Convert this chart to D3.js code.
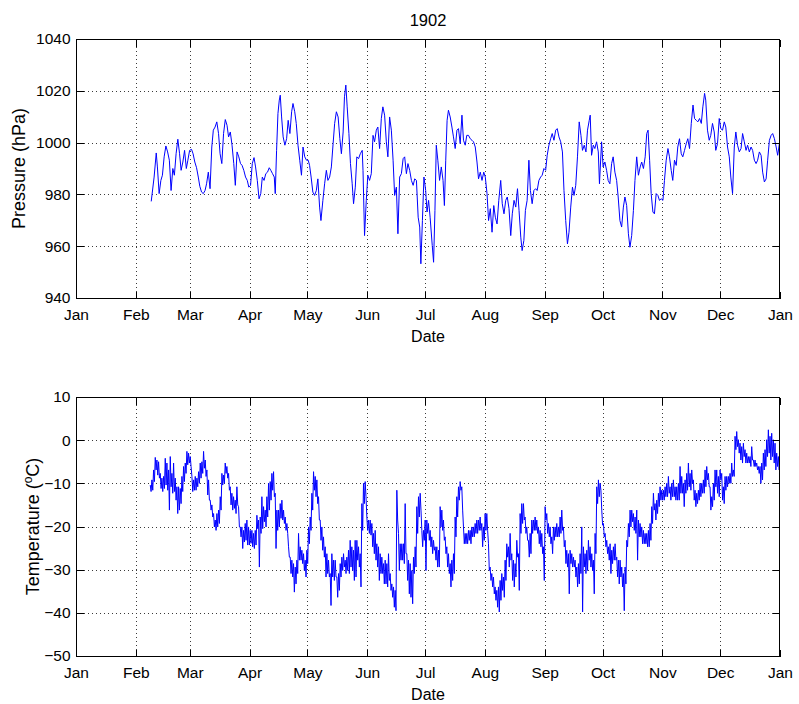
<!DOCTYPE html>
<html><head><meta charset="utf-8">
<script src="https://cdn.jsdelivr.net/npm/d3@7/dist/d3.min.js"></script>
<style>
body{margin:0;background:#fff}
svg text{font-family:"Liberation Sans",Arial,Helvetica,sans-serif;fill:#000}
</style>
</head><body>
<svg id="chart" width="799" height="704"></svg>
<script>
// ---------------- data ----------------
const chartTitle = "1902";
const xLabel = "Date";
const pressureLabel = "Pressure (hPa)";
const pressureTicks = [940, 960, 980, 1000, 1020, 1040];
const temperatureTicks = [-50, -40, -30, -20, -10, 0, 10];
const monthTickLabels = ["Jan","Feb","Mar","Apr","May","Jun","Jul","Aug","Sep","Oct","Nov","Dec","Jan"];

// pressure: day of year 1902 (fractional) and value in hPa
const pressureDay = [
39.0,40.5,41.6,42.2,43.1,44.0,44.8,45.7,46.6,47.5,48.4,49.3,50.2,51.0,51.9,52.8,53.7,54.5,55.4,56.3,
57.2,58.0,58.9,59.9,60.7,61.6,62.5,63.4,64.2,65.1,66.0,66.9,67.7,68.6,69.5,70.4,71.2,72.1,73.0,73.9,
74.7,75.6,76.5,77.4,78.3,79.1,80.0,80.9,81.8,82.6,83.5,84.4,85.3,86.1,87.0,87.9,88.8,89.6,90.5,91.4,
92.3,93.1,94.0,94.9,95.8,96.6,97.5,98.4,99.3,100.2,101.0,101.9,102.8,103.3,104.0,104.7,105.4,105.9,106.6,107.4,
108.3,109.2,110.0,110.9,111.8,112.5,113.4,114.2,115.1,116.0,116.9,117.7,118.6,119.5,120.4,121.1,121.9,122.8,123.7,124.6,
125.4,126.3,127.0,128.0,128.9,129.8,130.6,131.5,132.4,133.3,134.1,135.0,135.9,136.8,137.6,138.5,139.2,139.9,140.6,141.5,
142.3,143.2,143.9,144.8,145.6,146.5,147.4,148.4,148.8,149.6,150.5,151.3,152.2,153.1,154.0,154.8,155.7,156.5,157.4,158.3,
159.1,160.0,160.9,161.7,162.6,163.5,164.4,165.2,166.1,166.9,167.8,168.7,169.6,170.4,171.3,172.1,173.0,173.9,174.8,175.6,
176.5,177.4,178.2,178.8,179.6,180.4,181.3,182.0,182.8,183.6,184.7,185.4,186.1,186.8,187.6,188.5,189.4,190.3,191.0,191.7,
192.4,193.1,194.0,194.9,195.7,196.6,197.5,198.3,199.2,200.1,200.9,201.8,202.6,203.5,204.4,205.3,206.1,207.0,207.9,208.7,
209.6,210.5,211.4,212.2,213.1,213.9,214.8,215.7,216.6,217.4,218.3,219.2,220.2,221.0,221.9,222.8,223.6,224.5,225.4,226.2,
227.1,228.0,228.9,229.7,230.6,231.3,232.2,233.0,233.9,234.8,235.6,236.5,237.4,238.3,239.1,240.0,240.9,241.7,242.6,243.5,
244.3,245.2,246.1,246.9,247.8,248.7,249.5,250.4,251.3,252.2,253.0,253.9,254.8,255.6,256.5,257.4,258.2,259.1,260.0,260.9,
261.8,262.6,263.5,264.4,265.2,266.1,266.6,267.3,268.2,269.0,269.9,270.8,271.4,272.5,273.3,274.2,275.1,275.9,276.8,277.7,
278.5,279.4,280.3,281.1,282.0,282.9,283.8,284.6,285.5,286.4,287.2,288.1,289.0,289.8,290.7,291.6,292.5,293.3,294.2,295.1,
295.9,296.6,297.4,298.2,299.1,299.9,300.8,301.7,302.5,303.4,304.3,305.1,306.0,306.9,307.7,308.6,309.4,310.3,311.2,312.0,
312.9,313.8,314.6,315.5,316.4,317.2,318.1,319.0,319.9,320.7,321.6,322.4,323.3,324.2,325.0,325.9,326.5,327.4,328.3,329.1,
330.0,330.9,331.7,332.6,333.5,334.3,335.2,336.1,336.9,337.8,338.7,339.5,340.4,341.3,342.1,343.0,343.9,344.8,345.6,346.5,
347.4,348.2,349.1,350.0,350.8,351.7,352.6,353.4,354.3,355.2,356.0,356.9,357.8,358.6,359.5,360.4,361.2,362.1,363.0,363.8,
364.7,365.0];
const pressureHPa = [
977.3,986.7,996.0,990.6,980.3,985.4,987.4,994.5,998.7,996.4,993.2,981.5,990.0,987.4,995.7,1001.3,995.7,989.3,992.5,997.0,
990.0,993.2,997.0,997.4,995.7,992.5,990.3,986.7,983.1,980.9,980.3,981.5,984.1,988.6,982.2,998.3,1004.8,1006.0,1008.0,1003.5,
995.7,991.9,1003.5,1008.9,1006.7,1002.2,1004.1,999.0,991.9,983.5,996.4,994.5,991.9,991.2,989.3,986.7,985.4,982.8,983.5,991.9,
994.2,990.6,985.4,978.3,980.3,986.7,985.4,988.0,988.6,990.3,989.3,988.0,986.7,980.3,997.0,1011.2,1016.4,1018.3,1009.9,1002.2,
999.0,1001.5,1008.6,1003.5,1011.9,1015.1,1011.9,1007.4,999.0,993.2,987.4,998.3,994.5,993.2,993.2,991.2,986.7,980.9,979.6,981.5,
986.0,975.1,969.9,977.7,984.1,989.3,985.4,986.7,990.6,999.6,1007.4,1011.9,1009.9,1001.5,995.7,1004.1,1017.7,1022.2,1013.8,1003.5,
991.9,984.1,976.4,982.8,994.5,993.8,995.7,997.0,989.3,964.1,977.7,987.4,985.4,988.0,1002.8,1000.3,1004.8,1006.0,997.7,1009.3,
1013.8,1010.6,1000.3,994.5,1009.9,1004.8,993.2,979.6,982.8,964.8,986.7,988.0,993.8,994.5,988.0,991.9,989.3,985.4,983.5,986.0,
985.4,971.2,967.4,953.2,969.9,986.7,981.5,973.2,977.7,971.2,960.3,953.8,973.8,999.0,993.2,985.4,990.6,985.4,975.7,993.2,
1008.6,1012.5,1009.9,1006.0,1002.2,997.7,1004.8,1005.4,999.6,1010.6,1000.9,999.0,1002.8,1002.8,1001.5,1000.9,1000.3,998.3,992.5,986.0,
988.6,985.4,988.6,986.7,980.3,969.9,974.5,965.4,975.7,971.2,968.6,977.7,985.4,976.4,972.5,977.7,979.0,974.5,964.1,972.5,
977.7,975.1,982.2,973.8,963.5,958.3,962.2,973.8,977.7,993.2,981.5,976.4,981.5,982.2,981.5,985.4,986.7,987.4,990.0,989.3,
995.1,999.0,1001.5,1003.5,1000.9,1004.8,1005.4,1002.2,1000.3,996.4,981.5,969.9,960.9,965.4,975.1,982.8,979.6,983.5,994.5,1008.0,
1002.8,997.0,999.0,996.4,1004.8,1008.6,1010.6,995.1,999.0,997.7,1000.3,996.4,984.1,1000.3,990.6,992.5,989.3,985.4,984.1,991.9,
994.5,988.6,985.4,979.0,969.9,967.4,975.1,979.0,975.7,964.8,959.6,964.1,973.8,985.4,994.5,987.4,990.6,992.5,990.0,994.5,
1003.5,1004.8,993.2,980.3,973.2,972.5,980.3,979.6,977.7,978.3,977.7,985.4,993.2,997.7,994.5,989.3,985.4,993.2,991.2,998.3,
1001.5,995.7,994.5,997.0,999.6,1001.5,997.7,1007.4,1014.5,1009.3,1008.6,1008.0,1009.3,1007.4,1013.8,1019.0,1016.4,1004.8,1000.9,1002.8,
1007.4,1004.1,997.0,999.6,1009.3,1005.4,1004.8,1008.0,1006.0,998.3,994.5,986.7,980.3,998.3,1004.1,999.0,996.4,997.7,1003.5,1000.3,
997.0,999.0,996.4,998.3,997.0,993.2,991.9,993.2,996.4,995.1,988.6,984.8,986.0,993.2,1000.9,1002.8,1003.5,1001.5,998.3,995.1,
999.6,1000.9];

// temperature: readings every tempStepDays from tempStartDay; each reading gives a high then a low sample
const tempStartDay = 38.5;
const tempStepDays = 0.8638;
const tempHigh = [
-10.4,-9.2,-6.9,-4.0,-4.6,-5.0,-7.7,-8.8,-8.4,-4.2,-5.3,-6.9,-3.8,-7.7,-5.3,-8.8,-10.8,-10.8,-11.2,-8.4,
-6.1,-5.3,-2.6,-3.0,-3.8,-8.4,-9.2,-8.4,-8.8,-7.3,-5.3,-5.0,-2.6,-4.6,-6.9,-9.2,-13.9,-15.0,-17.0,-18.5,
-17.0,-16.2,-13.1,-7.7,-8.1,-5.3,-6.1,-7.7,-10.8,-12.3,-13.1,-13.9,-10.8,-15.4,-20.1,-20.1,-20.9,-19.3,-18.5,-20.1,
-20.9,-20.9,-21.6,-20.9,-17.4,-18.5,-17.8,-13.1,-15.4,-16.2,-13.1,-10.0,-9.6,-7.7,-7.3,-12.3,-16.2,-16.2,-14.7,-13.9,
-16.2,-17.8,-19.3,-24.7,-27.1,-27.8,-28.6,-29.4,-27.8,-21.6,-24.7,-25.5,-26.3,-27.8,-25.5,-20.1,-17.8,-12.3,-7.3,-8.4,
-9.2,-13.1,-18.5,-20.1,-22.4,-24.7,-26.3,-27.8,-30.9,-26.3,-27.8,-27.8,-31.7,-30.9,-28.6,-27.1,-26.3,-27.8,-27.1,-25.5,
-23.2,-24.7,-25.5,-23.2,-23.2,-24.7,
-26.3,-14.7,-10.0,-9.6,-17.8,-18.5,-18.5,-19.3,-21.6,-20.9,-24.0,-24.7,-26.3,-27.1,-28.6,-27.8,-28.6,-26.3,-30.9,-33.3,
-34.0,-34.8,-11.6,-21.6,-24.0,-24.0,-24.0,-14.7,-26.3,-27.8,-28.6,-30.2,-27.1,-24.7,-15.4,-13.1,-12.3,-20.9,-20.9,-18.5,
-18.5,-19.3,-20.9,-22.4,-23.2,-24.7,-24.7,-25.5,-15.4,-16.2,-18.5,-22.4,-24.7,-26.3,-28.6,-27.8,-26.3,-17.8,-13.1,-10.8,
-9.6,-10.8,-20.1,-21.6,-21.6,-20.9,-20.9,-20.1,-20.1,-19.3,-18.5,-18.5,-17.8,-19.3,-20.1,-17.0,-17.0,-24.0,-29.4,-30.9,
-31.7,-34.0,-34.8,-34.0,-32.5,-30.9,-31.7,-27.8,-24.0,-24.7,-21.6,-26.3,-27.8,-28.6,-23.2,-26.3,-17.0,-14.7,-14.7,-17.8,
-20.1,-23.2,-21.6,-18.5,-18.5,-17.8,-18.5,-20.1,-20.9,-21.6,-24.7,-15.4,-17.0,-19.3,-20.1,-22.4,-20.1,-20.1,-19.3,-20.1,
-17.8,-16.2,-20.1,-23.2,-25.5,-26.3,-25.5,-26.3,-27.1,
-27.8,-29.4,-28.6,-26.3,-20.1,-24.7,-26.3,-25.5,-23.2,-24.7,-26.3,-27.8,-21.6,-10.8,-9.2,-10.0,-16.2,-19.3,-21.6,-23.2,
-24.7,-24.0,-25.5,-24.7,-24.0,-27.1,-27.8,-27.8,-29.4,-30.9,-29.4,-23.2,-19.3,-16.2,-16.2,-17.0,-17.8,-16.2,-18.5,-19.3,
-20.1,-20.9,-21.6,-21.6,-20.9,-19.3,-15.4,-12.3,-14.7,-13.9,-12.3,-10.8,-11.6,-11.6,-10.8,-10.0,-8.4,-10.8,-10.0,-9.2,
-10.8,-10.8,-10.0,-6.1,-8.4,-10.0,-9.2,-7.7,-5.3,-7.7,-6.9,-9.2,-11.6,-12.3,-11.6,-10.0,-10.0,-9.2,-6.9,-6.1,
-7.7,-10.8,-13.1,-10.0,-6.9,-6.9,-8.4,-6.9,-7.7,-10.8,-8.4,-8.4,-8.4,-7.7,-5.3,-6.9,0.9,2.0,0.1,-0.7,
-1.5,-0.7,-2.2,-3.0,-3.8,-3.8,-1.5,-4.6,-4.6,-5.3,-6.1,-6.1,-5.3,-3.0,-2.2,0.1,2.4,0.9,1.6,0.1,
-0.7,-3.0,-3.8,-2.2];
const tempLow = [
-11.9,-11.6,-9.6,-6.9,-8.1,-8.8,-11.2,-11.9,-11.2,-10.4,-11.6,-16.2,-10.8,-12.3,-11.9,-13.9,-17.0,-16.2,-14.7,-11.9,
-9.6,-7.7,-5.7,-5.3,-6.1,-11.9,-11.6,-11.6,-10.8,-10.0,-8.8,-7.7,-6.5,-8.4,-12.7,-13.9,-16.2,-17.8,-20.1,-20.9,
-20.1,-19.3,-16.2,-10.4,-10.0,-7.7,-8.8,-11.6,-15.0,-16.2,-15.8,-17.0,-15.0,-20.1,-22.4,-25.1,-23.6,-23.2,-24.3,-24.3,
-23.9,-24.7,-25.1,-24.3,-20.5,-29.4,-21.6,-20.5,-18.9,-20.1,-17.8,-16.2,-13.9,-11.6,-13.1,-25.1,-20.9,-20.1,-18.1,-18.5,
-19.3,-20.9,-21.6,-27.1,-30.9,-31.7,-35.2,-33.3,-30.9,-27.8,-27.8,-28.6,-30.2,-31.7,-28.6,-24.0,-20.9,-16.2,-11.6,-13.1,
-14.7,-18.5,-23.2,-25.5,-27.1,-31.7,-30.9,-31.7,-38.3,-31.7,-32.5,-31.7,-36.4,-34.8,-31.7,-30.2,-29.4,-30.9,-30.2,-30.9,
-29.4,-30.2,-32.5,-31.7,-27.8,-29.4,
-34.0,-20.9,-14.7,-13.1,-20.9,-21.6,-22.0,-24.7,-26.3,-27.8,-29.4,-32.5,-30.9,-30.9,-33.3,-33.3,-34.0,-32.5,-34.8,-36.4,
-38.7,-39.5,-18.5,-30.2,-27.8,-27.8,-28.6,-26.3,-32.5,-35.6,-36.4,-37.9,-30.9,-29.4,-21.6,-17.8,-16.2,-24.7,-23.2,-30.2,
-21.6,-23.2,-24.7,-26.3,-25.5,-27.8,-29.4,-29.4,-20.1,-20.9,-23.2,-26.3,-29.4,-30.9,-34.0,-32.5,-30.9,-22.4,-17.8,-13.9,
-11.6,-16.2,-24.0,-24.0,-24.0,-23.2,-24.0,-22.4,-22.4,-21.6,-21.6,-20.9,-20.9,-24.7,-23.2,-20.9,-20.9,-30.2,-32.5,-34.0,
-35.6,-37.1,-38.7,-39.8,-37.1,-34.8,-36.4,-32.5,-27.1,-29.4,-27.8,-32.5,-34.0,-31.7,-27.1,-34.8,-21.6,-19.3,-18.5,-21.6,
-23.2,-27.1,-26.3,-21.6,-20.9,-20.9,-21.6,-24.0,-24.7,-26.3,-32.5,-18.5,-21.6,-22.4,-24.0,-26.3,-23.2,-22.4,-22.4,-22.4,
-21.6,-20.9,-24.7,-28.6,-29.4,-35.6,-28.6,-29.4,-29.4,
-31.7,-34.0,-33.3,-30.9,-39.8,-29.4,-30.9,-30.2,-27.8,-29.4,-30.2,-35.6,-26.3,-14.7,-13.1,-11.6,-19.7,-22.4,-24.7,-26.3,
-27.8,-30.9,-28.6,-27.8,-27.8,-31.7,-33.3,-31.7,-34.0,-39.5,-33.3,-24.7,-22.4,-20.1,-18.9,-20.9,-21.6,-27.8,-22.4,-22.4,
-24.0,-24.0,-24.0,-24.7,-24.7,-23.2,-19.3,-16.2,-18.5,-17.0,-15.4,-13.9,-13.9,-13.9,-13.1,-13.1,-12.3,-13.9,-13.1,-13.1,
-13.9,-13.9,-13.9,-12.3,-12.3,-15.4,-12.3,-11.6,-10.8,-11.6,-10.0,-13.9,-15.4,-14.7,-13.9,-13.1,-12.3,-12.3,-10.8,-9.2,
-10.8,-16.2,-15.4,-13.9,-10.8,-12.3,-13.1,-9.2,-13.9,-14.7,-11.6,-10.8,-10.0,-10.0,-8.4,-8.4,-2.2,-1.5,-3.0,-4.6,
-5.3,-3.8,-5.3,-5.3,-5.3,-6.1,-4.6,-6.1,-6.1,-6.9,-7.7,-10.0,-9.2,-6.9,-6.1,-3.8,-3.0,-4.6,-3.8,-5.3,
-6.9,-6.1,-6.9,-5.3];

// ---------------- drawing ----------------
const svg = d3.select("#chart");
const day0 = Date.UTC(1902, 0, 1);
const toDate = d => new Date(day0 + d * 864e5);

const x = d3.scaleUtc()
  .domain([new Date(Date.UTC(1902,0,1)), new Date(Date.UTC(1903,0,1))])
  .range([76, 780]);
const monthTicks = d3.utcMonth.range(new Date(Date.UTC(1902,0,1)), new Date(Date.UTC(1903,0,2)));

const pressureData = pressureDay.map((d, i) => ({t: toDate(d), v: pressureHPa[i]}));
const tempData = [];
tempHigh.forEach((h, i) => {
  const t = tempStartDay + i * tempStepDays;
  tempData.push({t: toDate(t), v: h});
  tempData.push({t: toDate(t + tempStepDays / 2), v: tempLow[i]});
});

const panels = [
  {top: 39, bottom: 298, domain: [940, 1040], ticks: pressureTicks, data: pressureData, id: "p"},
  {top: 397, bottom: 656, domain: [-50, 10], ticks: temperatureTicks, data: tempData, id: "t"}
];

const tickFont = "15.5px";
const xLabelFont = "16px";
const yLabelFont = "18px";
const L = 76, R = 780;

panels.forEach(p => {
  const y = d3.scaleLinear().domain(p.domain).range([p.bottom, p.top]);
  const g = svg.append("g");

  // grid
  const grid = g.append("g").attr("stroke", "#3a3a3a").attr("stroke-width", 1)
    .attr("stroke-dasharray", "1,3").attr("shape-rendering", "crispEdges");
  grid.selectAll(".gx").data(monthTicks.slice(1, -1)).join("line")
    .attr("x1", d => Math.round(x(d)) + 0.5).attr("x2", d => Math.round(x(d)) + 0.5)
    .attr("y1", p.top).attr("y2", p.bottom);
  grid.selectAll(".gy").data(p.ticks.slice(1, -1)).join("line")
    .attr("y1", d => Math.round(y(d)) + 0.5).attr("y2", d => Math.round(y(d)) + 0.5)
    .attr("x1", L).attr("x2", R);

  // clip + data line
  svg.append("clipPath").attr("id", "clip" + p.id).append("rect")
    .attr("x", L).attr("y", p.top).attr("width", R - L).attr("height", p.bottom - p.top);
  g.append("path").datum(p.data)
    .attr("clip-path", `url(#clip${p.id})`)
    .attr("fill", "none").attr("stroke", "#0000ff").attr("stroke-width", 1)
    .attr("stroke-linejoin", "miter")
    .attr("d", d3.line().x(d => x(d.t)).y(d => y(d.v)));

  // axes
  const fmt = (d, i) => monthTickLabels[i];
  const ab = g.append("g").attr("transform", `translate(0,${p.bottom + 0.5})`)
    .call(d3.axisBottom(x).tickValues(monthTicks).tickFormat(fmt).tickSizeInner(-7).tickSizeOuter(0).tickPadding(10));
  const at = g.append("g").attr("transform", `translate(0,${p.top + 0.5})`)
    .call(d3.axisTop(x).tickValues(monthTicks).tickFormat("").tickSizeInner(-7).tickSizeOuter(0));
  const al = g.append("g").attr("transform", `translate(${L + 0.5},0)`)
    .call(d3.axisLeft(y).tickValues(p.ticks).tickFormat(d3.format("d")).tickSizeInner(-7).tickSizeOuter(0).tickPadding(6));
  const ar = g.append("g").attr("transform", `translate(${R - 0.5},0)`)
    .call(d3.axisRight(y).tickValues(p.ticks).tickFormat("").tickSizeInner(-7).tickSizeOuter(0));
  [ab, at, al, ar].forEach(a => {
    a.select(".domain").remove();
    a.selectAll("line").attr("stroke", "#000").attr("shape-rendering", "crispEdges");
    a.selectAll("text").attr("font-size", tickFont).attr("fill", "#000")
      .attr("font-family", '"Liberation Sans", Arial, sans-serif');
  });

  // box
  g.append("rect").attr("x", L + 0.5).attr("y", p.top + 0.5)
    .attr("width", R - L - 1).attr("height", p.bottom - p.top)
    .attr("fill", "none").attr("stroke", "#000").attr("stroke-width", 1)
    .attr("shape-rendering", "crispEdges");

  // x label
  g.append("text").attr("x", (L + R) / 2).attr("y", p.bottom + 44)
    .attr("text-anchor", "middle").attr("font-size", xLabelFont).text(xLabel);
});

// title
svg.append("text").attr("x", (L + R) / 2).attr("y", 26).attr("text-anchor", "middle")
  .attr("font-size", "16.5px").text(chartTitle);

// y labels
svg.append("text").attr("transform", `translate(25,${(39 + 298) / 2}) rotate(-90)`)
  .attr("text-anchor", "middle").attr("font-size", yLabelFont).text(pressureLabel);
const tl = svg.append("text").attr("transform", `translate(39,${(397 + 656) / 2}) rotate(-90)`)
  .attr("text-anchor", "middle").attr("font-size", yLabelFont);
tl.append("tspan").text("Temperature (");
tl.append("tspan").attr("dy", -7).attr("font-size", "12px").text("o");
tl.append("tspan").attr("dy", 7).text("C)");
</script>
</body></html>
